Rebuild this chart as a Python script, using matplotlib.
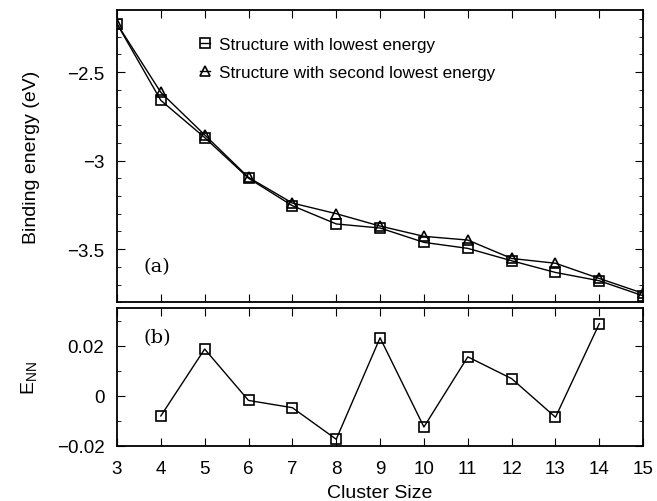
import matplotlib.pyplot as plt
from matplotlib.ticker import MultipleLocator

plt.rcParams['font.family'] = ['Liberation Sans', 'DejaVu Sans']

sizes = [3, 4, 5, 6, 7, 8, 9, 10, 11, 12, 13, 14, 15]
e_lowest = [-2.227, -2.66, -2.87, -3.10, -3.255, -3.358, -3.381, -3.462, -3.496,
            -3.566, -3.632, -3.679, -3.764]
e_second = [-2.227, -2.615, -2.855, -3.095, -3.24, -3.30, -3.37, -3.428, -3.449,
            -3.553, -3.58, -3.666, -3.75]

nn_sizes = [4, 5, 6, 7, 8, 9, 10, 11, 12, 13, 14]
e_nn = [-0.0081, 0.0186, -0.0019, -0.0048, -0.0174, 0.0231, -0.0125, 0.0155,
        0.0068, -0.0086, 0.0288]

fig = plt.figure(figsize=(6.57, 5.02), dpi=100)
ax1 = fig.add_axes([0.178, 0.396, 0.801, 0.582])
ax2 = fig.add_axes([0.178, 0.11, 0.801, 0.2745])

mk = dict(color='black', lw=1.0, markerfacecolor='none', markeredgecolor='black',
          markeredgewidth=1.2, markersize=7)
ax1.plot(sizes, e_lowest, marker='s', label='Structure with lowest energy', **mk)
ax1.plot(sizes, e_second, marker='^', label='Structure with second lowest energy', **mk)
ax1.set_xlim(3, 15)
ax1.set_ylim(-3.8, -2.15)
ax1.yaxis.set_minor_locator(MultipleLocator(0.1))
ax1.set_yticks([-2.5, -3, -3.5])
ax1.set_yticklabels(['\u22122.5', '\u22123', '\u22123.5'])
ax1.xaxis.set_major_locator(MultipleLocator(1))
ax1.set_xticklabels([])
ax1.set_ylabel('Binding energy (eV)', fontsize=14)
ax1.yaxis.set_label_coords(-0.146, 0.5)
ax1.text(0.05, 0.107, '(a)', transform=ax1.transAxes, fontsize=14,
         family='DejaVu Serif')
ax1.legend(loc='upper left', bbox_to_anchor=(0.145, 0.93), frameon=False,
           fontsize=12.3, handlelength=0.6, handletextpad=0.5, borderaxespad=0,
           labelspacing=0.75)

ax2.plot(nn_sizes, e_nn, marker='s', **mk)
ax2.set_xlim(3, 15)
ax2.set_ylim(-0.02, 0.035)
ax2.xaxis.set_major_locator(MultipleLocator(1))
ax2.set_yticks([-0.02, 0, 0.02])
ax2.set_yticklabels(['\u22120.02', '0', '0.02'])
ax2.yaxis.set_minor_locator(MultipleLocator(0.01))
ax2.set_xlabel('Cluster Size', fontsize=14, labelpad=5)
ax2.set_ylabel('E$_{\\mathregular{NN}}$', fontsize=14)
ax2.yaxis.set_label_coords(-0.146, 0.5)
ax2.text(0.05, 0.75, '(b)', transform=ax2.transAxes, fontsize=14,
         family='DejaVu Serif')

for ax in (ax1, ax2):
    ax.tick_params(which='both', direction='in', top=True, right=True,
                   labelsize=13.5)
    ax.tick_params(which='major', length=6)
    ax.tick_params(which='minor', length=3)
    ax.tick_params(axis='y', which='major', pad=9)
    ax.tick_params(axis='x', which='major', pad=10)
    for s in ax.spines.values():
        s.set_linewidth(1.3)

fig.savefig('out.png', dpi=100)
